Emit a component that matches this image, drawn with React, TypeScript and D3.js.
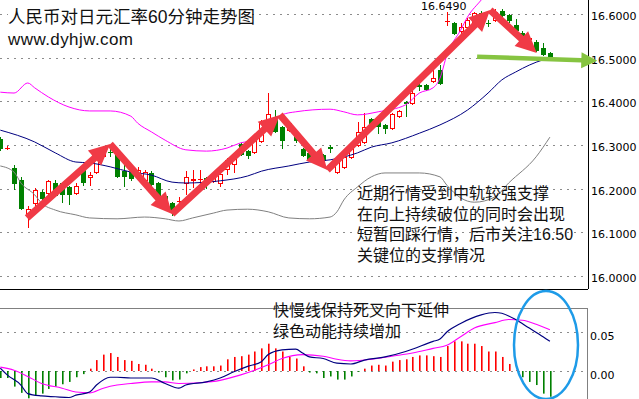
import React from "react";
import * as d3 from "d3";

// ---------- data ----------
const OPEN = [16.314,16.293,16.247,16.220,16.144,16.167,16.192,16.190,16.213,16.213,16.204,16.190,16.243,16.227,16.238,16.275,16.284,16.284,16.240,16.238,16.229,16.220,16.236,16.213,16.183,16.167,16.171,16.213,16.220,16.222,16.224,16.218,16.213,16.245,16.256,16.302,16.286,16.284,16.309,16.350,16.364,16.341,16.334,16.323,16.291,16.282,16.277,16.277,16.295,16.238,16.250,16.273,16.300,16.307,16.360,16.357,16.346,16.339,16.366,16.398,16.396,16.437,16.437,16.447,16.472,16.584,16.579,16.561,16.570,16.582,16.602,16.580,16.586,16.607,16.598,16.575,16.556,16.543,16.536,16.522,16.511];
const HIGH = [16.318,16.297,16.254,16.227,16.160,16.202,16.197,16.220,16.220,16.214,16.206,16.213,16.250,16.238,16.289,16.297,16.293,16.286,16.259,16.245,16.250,16.242,16.240,16.216,16.186,16.170,16.181,16.240,16.243,16.243,16.226,16.227,16.236,16.270,16.275,16.305,16.288,16.314,16.357,16.419,16.380,16.343,16.353,16.326,16.294,16.285,16.280,16.279,16.300,16.263,16.275,16.295,16.353,16.373,16.362,16.359,16.348,16.373,16.380,16.400,16.431,16.444,16.439,16.476,16.483,16.605,16.581,16.579,16.590,16.605,16.606,16.586,16.612,16.611,16.600,16.589,16.561,16.550,16.540,16.534,16.513];
const LOW = [16.289,16.291,16.199,16.153,16.112,16.156,16.174,16.181,16.183,16.169,16.165,16.188,16.208,16.208,16.236,16.272,16.275,16.227,16.206,16.220,16.226,16.216,16.209,16.166,16.160,16.140,16.163,16.188,16.204,16.213,16.202,16.216,16.206,16.234,16.238,16.277,16.270,16.282,16.307,16.348,16.330,16.293,16.332,16.308,16.275,16.265,16.263,16.262,16.284,16.236,16.248,16.271,16.298,16.305,16.344,16.327,16.327,16.337,16.364,16.366,16.394,16.426,16.426,16.445,16.440,16.575,16.554,16.552,16.568,16.580,16.589,16.572,16.584,16.596,16.582,16.561,16.547,16.536,16.515,16.505,16.500];
const CLOSE = [16.293,16.294,16.213,16.156,16.153,16.197,16.179,16.218,16.186,16.188,16.188,16.206,16.215,16.231,16.277,16.293,16.283,16.229,16.229,16.224,16.243,16.238,16.211,16.169,16.163,16.147,16.172,16.227,16.221,16.223,16.215,16.224,16.234,16.266,16.273,16.279,16.277,16.311,16.353,16.371,16.332,16.311,16.350,16.311,16.277,16.268,16.266,16.266,16.294,16.261,16.273,16.293,16.330,16.341,16.346,16.343,16.339,16.371,16.378,16.396,16.419,16.436,16.428,16.453,16.442,16.585,16.556,16.570,16.586,16.602,16.591,16.579,16.605,16.598,16.586,16.563,16.550,16.545,16.518,16.508,16.504];

const UPPER_IDX = [0,2,4,5,7,10,13,16,19,20,22,24,27,30,33,35,37,39,41,43,48,50,52,55,59,61,63,64,65,67,68,70,72];
const UPPER = [16.421,16.419,16.442,16.431,16.410,16.387,16.378,16.378,16.366,16.350,16.330,16.311,16.289,16.286,16.293,16.305,16.311,16.348,16.369,16.376,16.382,16.376,16.369,16.376,16.392,16.419,16.431,16.453,16.506,16.563,16.593,16.632,16.670];
const MID_IDX = [0,5,8,11,13,16,19,22,25,27,32,36,38,42,45,48,52,54,57,61,64,68,71,73,75,77,79,80];
const MID = [16.334,16.307,16.282,16.261,16.259,16.250,16.238,16.231,16.215,16.213,16.218,16.229,16.240,16.252,16.261,16.266,16.282,16.295,16.305,16.327,16.346,16.380,16.419,16.449,16.467,16.483,16.495,16.499];
const LOWER_IDX = [0,2,3,5,6,8,11,13,17,21,24,26,28,31,33,36,39,42,45,48,49,50,52,54,56,61,64,65,67,69,72,74,78,80];
const LOWER = [16.252,16.238,16.213,16.186,16.167,16.151,16.140,16.133,16.131,16.135,16.131,16.126,16.133,16.144,16.151,16.153,16.147,16.133,16.131,16.135,16.147,16.174,16.204,16.227,16.236,16.236,16.227,16.208,16.179,16.169,16.181,16.213,16.273,16.318];

const HIST = [-0.009,-0.009,-0.020,-0.028,-0.035,-0.032,-0.029,-0.023,-0.020,-0.017,-0.014,-0.008,-0.004,0.003,0.014,0.021,0.023,0.018,0.014,0.013,0.009,0.008,0.003,-0.002,-0.008,-0.012,-0.011,-0.003,0.002,0.005,0.006,0.006,0.007,0.015,0.018,0.019,0.021,0.025,0.029,0.035,0.029,0.025,0.018,0.016,0.006,-0.002,-0.003,-0.009,-0.007,-0.011,-0.011,-0.007,-0.001,0.003,0.007,0.008,0.007,0.012,0.014,0.015,0.018,0.020,0.020,0.019,0.018,0.032,0.038,0.038,0.035,0.035,0.032,0.025,0.025,0.018,0.009,0.001,-0.008,-0.014,-0.018,-0.029,-0.033];
const DIF_IDX = [0,1,3,4,6,8,10,11,13,14,16,17,19,22,24,26,27,30,32,34,36,38,39,41,43,44,45,47,49,51,53,56,59,63,64,65,67,70,72,73,75,77,79,80];
const DIF = [0.0035,-0.005,-0.018,-0.029,-0.032,-0.033,-0.034,-0.031,-0.027,-0.018,-0.008,-0.008,-0.009,-0.009,-0.016,-0.022,-0.018,-0.014,-0.009,-0.001,0.006,0.012,0.021,0.027,0.028,0.023,0.018,0.016,0.010,0.009,0.014,0.018,0.025,0.038,0.041,0.050,0.061,0.072,0.075,0.074,0.066,0.055,0.044,0.038];
const DEA_IDX = [0,2,4,6,9,11,13,15,17,19,22,24,26,29,32,35,37,39,41,44,47,49,51,54,57,60,63,65,67,69,72,74,76,78,80];
const DEA = [0.005,0.001,-0.007,-0.016,-0.022,-0.027,-0.028,-0.022,-0.018,-0.016,-0.014,-0.014,-0.016,-0.015,-0.012,-0.005,0.001,0.008,0.016,0.021,0.019,0.015,0.013,0.015,0.019,0.023,0.029,0.033,0.044,0.055,0.062,0.066,0.065,0.060,0.053];

const PRICE_TICKS = [16.0, 16.1, 16.2, 16.3, 16.4, 16.5, 16.6];
const MACD_TICKS = [0.05, 0.0];

const TITLE = "人民币对日元汇率60分钟走势图";
const SITE = "www.dyhjw.com";
const HIGH_LABEL = "16.6490";
const NOTE_MAIN = ["近期行情受到中轨较强支撑", "在向上持续破位的同时会出现", "短暂回踩行情，后市关注16.50", "关键位的支撑情况"];
const NOTE_MACD = ["快慢线保持死叉向下延伸", "绿色动能持续增加"];

// annotation arrows in (bar index, price) space
const RED_PATH_IDX = [3.9, 16, 25, 40.7, 47.6, 71.3, 78.1];
const RED_PATH_PRICE = [16.133, 16.302, 16.142, 16.369, 16.243, 16.609, 16.511];
const GREEN_IDX = [69.4, 86.9];
const GREEN_PRICE = [16.502, 16.493];

// ---------- layout ----------
const W = 639, H = 399;
const PLOT_R = 588;
const x = d3.scaleLinear().domain([0, 80]).range([0.3, 549.9]);
const y = d3.scaleLinear().domain([16.0, 16.6]).range([276, 14]);
const ym = d3.scaleLinear().domain([0, 0.05]).range([371, 332]);

const RED = "#ff0000";
const GREEN = "#008000";
const CJK = "'Liberation Sans', 'Noto Sans CJK SC', sans-serif";
const AXF = "'DejaVu Sans', Verdana, sans-serif";

function arrowPath(p0: [number, number], p1: [number, number], shaft: number, headL: number, headW: number) {
  const dx = p1[0] - p0[0], dy = p1[1] - p0[1];
  const len = Math.hypot(dx, dy);
  const ux = dx / len, uy = dy / len;
  const nx = -uy, ny = ux;
  const bx = p1[0] - ux * headL, by = p1[1] - uy * headL;
  const s = shaft / 2;
  const pts = [
    [p0[0] + nx * s, p0[1] + ny * s],
    [bx + nx * s, by + ny * s],
    [bx + nx * headW, by + ny * headW],
    [p1[0], p1[1]],
    [bx - nx * headW, by - ny * headW],
    [bx - nx * s, by - ny * s],
    [p0[0] - nx * s, p0[1] - ny * s],
  ];
  return "M" + pts.map((p) => p[0].toFixed(1) + "," + p[1].toFixed(1)).join("L") + "Z";
}

export default function App() {
  const idx = d3.range(OPEN.length);

  const bandLine = (ix: number[]) =>
    d3.line<number>().x((_, k) => x(ix[k])).y((d) => y(d)).curve(d3.curveMonotoneX);
  const macdLine = (ix: number[]) =>
    d3.line<number>().x((_, k) => x(ix[k])).y((d) => ym(d)).curve(d3.curveMonotoneX);

  const redPts: [number, number][] = RED_PATH_IDX.map((v, k) => [x(v), y(RED_PATH_PRICE[k])]);
  const greenPts: [number, number][] = GREEN_IDX.map((v, k) => [x(v), y(GREEN_PRICE[k])]);

  return (
    <div style={{ position: "fixed", left: 0, top: 0 }}>
      <svg width={W} height={H} style={{ display: "block", background: "#fff" }}>
        <defs>
          <clipPath id="mainClip"><rect x={0} y={0} width={PLOT_R} height={289} /></clipPath>
          <clipPath id="macdClip"><rect x={0} y={309} width={587} height={90} /></clipPath>
        </defs>
        <rect x={0} y={0} width={W} height={H} fill="#fff" />

        {/* main grid */}
        {PRICE_TICKS.map((t) => (
          <line key={"g" + t} x1={0} x2={PLOT_R} y1={Math.round(y(t)) + 0.5} y2={Math.round(y(t)) + 0.5}
            stroke="#8c8c8c" strokeDasharray="2 5" shapeRendering="crispEdges" />
        ))}

        <g clipPath="url(#mainClip)">
          {/* candles */}
          {idx.map((i) => {
            const cx = Math.round(x(i));
            const o = OPEN[i], c = CLOSE[i];
            const up = c >= o;
            const col = up ? RED : GREEN;
            const yt = Math.round(y(Math.max(o, c)));
            const yb = Math.round(y(Math.min(o, c)));
            const h = yb - yt;
            return (
              <g key={"c" + i} shapeRendering="crispEdges">
                <line x1={cx + 0.5} x2={cx + 0.5} y1={Math.round(y(HIGH[i]))} y2={Math.round(y(LOW[i])) + 1} stroke={col} />
                {h < 1 ? (
                  <line x1={cx - 2} x2={cx + 3} y1={yt + 0.5} y2={yt + 0.5} stroke={col} />
                ) : up ? (
                  <rect x={cx - 1.5} y={yt + 0.5} width={4} height={h} fill="#fff" stroke={col} />
                ) : (
                  <rect x={cx - 2} y={yt} width={5} height={h + 1} fill={col} />
                )}
              </g>
            );
          })}
          {/* Bollinger */}
          <path d={bandLine(LOWER_IDX)(LOWER) || ""} fill="none" stroke="#808080" strokeWidth={1} />
          <path d={bandLine(MID_IDX)(MID) || ""} fill="none" stroke="#000080" strokeWidth={1} />
          <path d={bandLine(UPPER_IDX)(UPPER) || ""} fill="none" stroke="#ff00ff" strokeWidth={1} />
        </g>

        {/* frame */}
        <line x1={0} x2={PLOT_R} y1={289.5} y2={289.5} stroke="#000" shapeRendering="crispEdges" />
        <line x1={PLOT_R + 0.5} x2={PLOT_R + 0.5} y1={0} y2={289} stroke="#000" shapeRendering="crispEdges" />
        <line x1={0} x2={587} y1={308.5} y2={308.5} stroke="#808080" shapeRendering="crispEdges" />
        <line x1={587.5} x2={587.5} y1={308} y2={H} stroke="#808080" shapeRendering="crispEdges" />

        {/* price labels */}
        {PRICE_TICKS.map((t) => (
          <text key={"l" + t} x={591} y={Math.round(y(t)) + 6} fontFamily={AXF} fontSize={11} fill="#000">
            {t.toFixed(4)}
          </text>
        ))}
        <text x={421} y={10} fontFamily={AXF} fontSize={11} fill="#000">{HIGH_LABEL}</text>

        {/* title */}
        <rect x={8} y={2} width={232} height={48} fill="#fff" />
        <text fontFamily={CJK} fill="#111">
          <tspan x={8} y={23} fontSize={17.5}>{TITLE}</tspan>
          <tspan x={8} y={45} fontSize={17} textLength={125}>{SITE}</tspan>
        </text>

        {/* red zigzag arrows */}
        <g fill="#f03a46">
          {redPts.slice(1).map((p, k) => (
            <path key={"a" + k} d={arrowPath(redPts[k], p, 7, 21, 10)} />
          ))}
        </g>
        {/* green arrow */}
        <path d={arrowPath(greenPts[0], greenPts[1], 4.5, 16, 8)} fill="#86c441" />

        {/* main note */}
        <text fontFamily={CJK} fontSize={16} fill="#111">
          {NOTE_MAIN.map((s, k) => (
            <tspan key={"n" + k} x={357} y={199 + k * 20.7}>{s}</tspan>
          ))}
        </text>

        {/* MACD grid */}
        {MACD_TICKS.map((t) => (
          <line key={"mg" + t} x1={0} x2={587} y1={Math.round(ym(t)) + 0.5} y2={Math.round(ym(t)) + 0.5}
            stroke="#8c8c8c" strokeDasharray="2 5" shapeRendering="crispEdges" />
        ))}
        <g clipPath="url(#macdClip)">
          {HIST.map((v, i) => {
            const cx = Math.round(x(i));
            const y0 = ym(0), y1 = ym(v);
            return (
              <rect key={"h" + i} x={cx} y={Math.min(y0, y1)} width={1.6} height={Math.abs(y1 - y0)}
                fill={v >= 0 ? RED : GREEN} />
            );
          })}
          <path d={macdLine(DEA_IDX)(DEA) || ""} fill="none" stroke="#ff00ff" strokeWidth={1.1} />
          <path d={macdLine(DIF_IDX)(DIF) || ""} fill="none" stroke="#000080" strokeWidth={1.2} />
        </g>
        {MACD_TICKS.map((t) => (
          <text key={"ml" + t} x={590} y={Math.round(ym(t)) + 8} fontFamily={AXF} fontSize={11} fill="#000">
            {t.toFixed(2)}
          </text>
        ))}
        <text fontFamily={CJK} fontSize={16} fill="#111">
          {NOTE_MACD.map((s, k) => (
            <tspan key={"m" + k} x={273} y={316 + k * 21}>{s}</tspan>
          ))}
        </text>
        <ellipse cx={546} cy={345} rx={32} ry={54} fill="none" stroke="#1e9be8" strokeWidth={2.5} />
      </svg>
    </div>
  );
}
